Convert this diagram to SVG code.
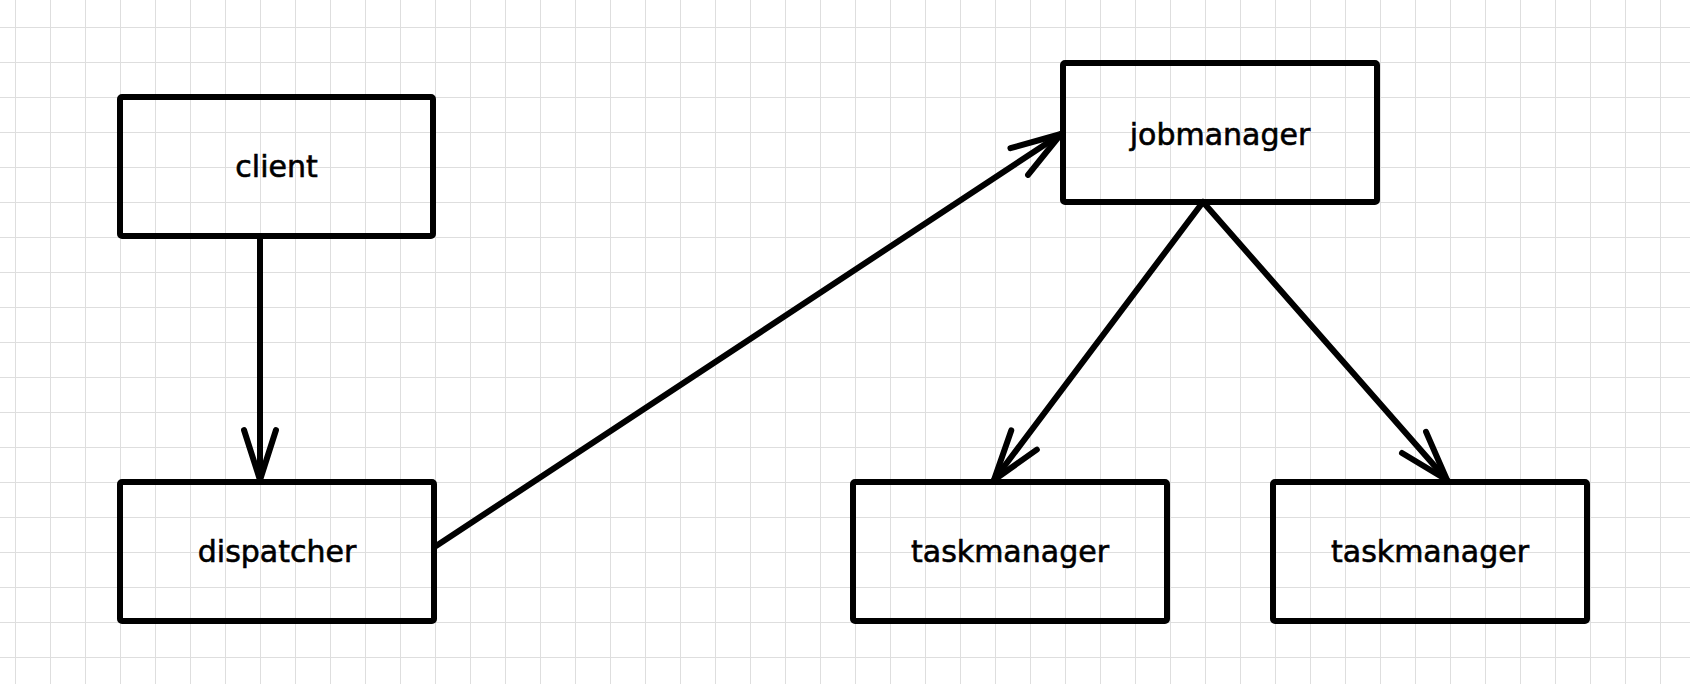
<svg xmlns="http://www.w3.org/2000/svg" width="1690" height="684" viewBox="0 0 1690 684">
<style>
.box{fill:none;stroke:#000;stroke-width:6;stroke-linejoin:round}
.lbl{font-family:"DejaVu Sans",sans-serif;font-size:30px;fill:#000;stroke:#000;stroke-width:0.6;text-anchor:middle}
.edge{fill:none;stroke:#000;stroke-width:6;stroke-linecap:round}
</style>
<defs>
<pattern id="grid" x="15" y="27" width="35" height="35" patternUnits="userSpaceOnUse">
<path d="M0 0H35M0 0V35" fill="none" stroke="#dedede" stroke-width="2"/>
</pattern>
<marker id="arr" markerUnits="userSpaceOnUse" viewBox="-56 -20 60 40" refX="0" refY="0" markerWidth="60" markerHeight="40" orient="auto" overflow="visible">
<path d="M-50 -16L0 0L-50 16" fill="none" stroke="#000" stroke-width="6" stroke-linecap="round" stroke-linejoin="round"/>
</marker>
</defs>
<rect width="1690" height="684" fill="#fff"/>
<rect width="1690" height="684" fill="url(#grid)"/>
<g id="client"><rect class="box" x="120" y="97" width="313" height="139" rx="2"/><text class="lbl" x="276.5" y="177">client</text></g>
<g id="dispatcher"><rect class="box" x="120" y="482" width="314" height="139" rx="2"/><text class="lbl" x="277" y="562">dispatcher</text></g>
<g id="jobmanager"><rect class="box" x="1063" y="63" width="314" height="139" rx="2"/><text class="lbl" x="1220" y="145">jobmanager</text></g>
<g id="taskmanager1"><rect class="box" x="853" y="482" width="314" height="139" rx="2"/><text class="lbl" x="1010" y="562">taskmanager</text></g>
<g id="taskmanager2"><rect class="box" x="1273" y="482" width="314" height="139" rx="2"/><text class="lbl" x="1430" y="562">taskmanager</text></g>
<g id="connectors">
<path class="edge" d="M260 236L260 480" marker-end="url(#arr)"/>
<path class="edge" d="M436 546L1061 134" marker-end="url(#arr)"/>
<path class="edge" d="M1203 202L994 480" marker-end="url(#arr)"/>
<path class="edge" d="M1203 202L1447 480" marker-end="url(#arr)"/>
</g>
</svg>
